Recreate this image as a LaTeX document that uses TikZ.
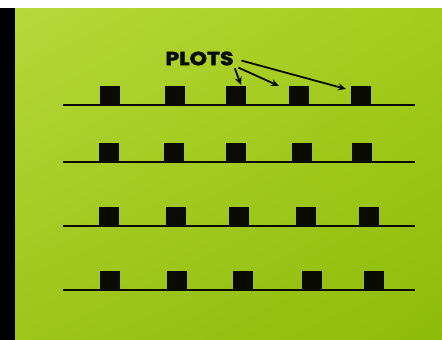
\documentclass[tikz,border=0pt]{standalone}
\usepackage{fontspec}
\newfontfamily\plotsfont{Poppins}[BoldFeatures={FakeBold=2.6, FakeStretch=1.16}]
\usepackage{tikz}
\usetikzlibrary{arrows.meta, positioning, shadings}
\definecolor{FieldLight}{HTML}{B7D83A}
\definecolor{FieldMidA}{HTML}{A4CC1C}
\definecolor{FieldMidB}{HTML}{9DC51A}
\definecolor{FieldDark}{HTML}{8EBC0C}
\definecolor{PlotBlack}{HTML}{0A0C04}

\begin{document}
\begin{tikzpicture}[x=1pt, y=-1pt,
  plot_node/.style={rectangle, fill=PlotBlack, minimum width=20pt,
    minimum height=19pt, inner sep=0pt, anchor=south west},
  row_line/.style={PlotBlack, line width=1.6pt},
  arrow/.style={-{Stealth[length=8pt, width=7pt]}, PlotBlack, line width=1.8pt},
  label_style/.style={font=\plotsfont\bfseries\fontsize{19}{19}\selectfont,
    text=PlotBlack, inner sep=0pt}
]

  \useasboundingbox (0,0) rectangle (442,340);
  % field and frame
  \shade[upper left=FieldLight, upper right=FieldMidA,
    lower left=FieldMidB, lower right=FieldDark] (15,8) rectangle (442,340);
  \fill[white] (0,0) rectangle (442,8);
  \fill[black] (0,8) rectangle (15,340);

  % rows
  \draw[row_line] (63,105) -- (415,105);
  \draw[row_line] (63,162) -- (415,162);
  \draw[row_line] (63,226) -- (415,226);
  \draw[row_line] (63,290) -- (415,290);

  \node[plot_node] (r1c1) at (100,105) {};
  \node[plot_node] (r1c2) at (165,105) {};
  \node[plot_node] (r1c3) at (226,105) {};
  \node[plot_node] (r1c4) at (289,105) {};
  \node[plot_node] (r1c5) at (351,105) {};

  \node[plot_node] (r2c1) at (99,162) {};
  \node[plot_node] (r2c2) at (164,162) {};
  \node[plot_node] (r2c3) at (226,162) {};
  \node[plot_node] (r2c4) at (292,162) {};
  \node[plot_node] (r2c5) at (352,162) {};

  \node[plot_node] (r3c1) at (99,226) {};
  \node[plot_node] (r3c2) at (166,226) {};
  \node[plot_node] (r3c3) at (229,226) {};
  \node[plot_node] (r3c4) at (296,226) {};
  \node[plot_node] (r3c5) at (359,226) {};

  \node[plot_node] (r4c1) at (100,290) {};
  \node[plot_node] (r4c2) at (167,290) {};
  \node[plot_node] (r4c3) at (233,290) {};
  \node[plot_node] (r4c4) at (302,290) {};
  \node[plot_node] (r4c5) at (364,290) {};

  % label
  \node[label_style] (plots) at (199.5,58.5) {PLOTS};
  \coordinate (tip1) at (241,85);
  \coordinate (tip2) at (279,86);
  \coordinate (tip3) at (346,89);

  \draw[arrow, shorten <=3pt] (plots.south east) -- (tip1);
  \draw[arrow, shorten <=5pt] (plots.south east) -- (tip2);
  \draw[arrow, shorten <=8pt] (plots.east) -- (tip3);

\end{tikzpicture}
\end{document}
